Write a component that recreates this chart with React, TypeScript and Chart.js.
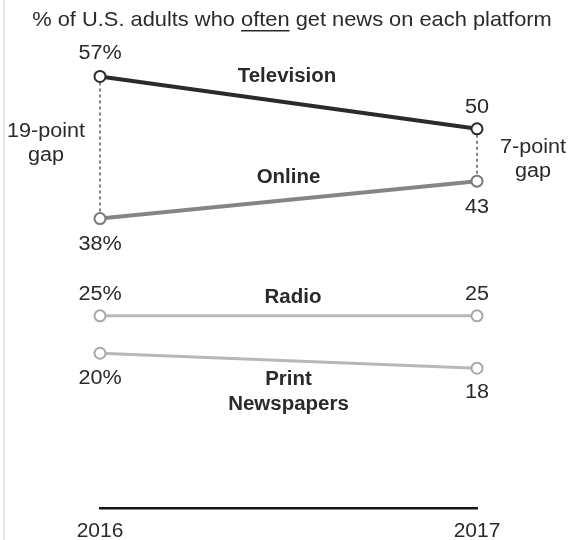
import React, { useEffect, useRef } from "react";
import { Chart, registerables } from "chart.js";

Chart.register(...registerables);

// ---- data ----
const years = ["2016", "2017"];
const seriesNames = ["Television", "Online", "Radio", "Print\nNewspapers"];
const television = [57, 50];
const online = [38, 43];
const radio = [25, 25];
const printNewspapers = [20, 18];
const gapNotes = ["19-point\ngap", "7-point\ngap"];
const titleParts = ["% of U.S. adults who ", "often", " get news on each platform"];

const FONT = "'Liberation Sans', Arial, Helvetica, sans-serif";
const TEXT = "#2a2a2a";

// style per series: colours, widths, label offsets
const styles = [
  { color: "#2b2b2b", point: "#2b2b2b", width: 4, dy: [-22.5, -21], nameDy: [-26], nameDx: -1.5 },
  { color: "#858585", point: "#7a7a7a", width: 4, dy: [26, 26], nameDy: [-22], nameDx: 0 },
  { color: "#b8b8b8", point: "#a8a8a8", width: 3, dy: [-21.5, -21], nameDy: [-18], nameDx: 4.5 },
  { color: "#b8b8b8", point: "#a8a8a8", width: 3, dy: [25, 24], nameDy: [19, 44], nameDx: 0 },
];

function drawText(ctx: CanvasRenderingContext2D, text: string, x: number, y: number, font: string, sx: number) {
  ctx.save();
  ctx.font = font;
  ctx.textAlign = "center";
  ctx.textBaseline = "middle";
  ctx.translate(x, y);
  ctx.scale(sx, 1);
  ctx.fillText(text, 0, 0);
  ctx.restore();
}

const annotate = {
  id: "annotate",
  beforeDraw(chart: any) {
    const { ctx, width, height } = chart;
    ctx.save();
    ctx.fillStyle = "#ffffff";
    ctx.fillRect(0, 0, width, height);
    // faint page border at left
    ctx.strokeStyle = "#e0e0e0";
    ctx.lineWidth = 1.5;
    ctx.beginPath();
    ctx.moveTo(4, 0);
    ctx.lineTo(4, height);
    ctx.stroke();
    ctx.restore();
  },
  beforeDatasetsDraw(chart: any) {
    const { ctx } = chart;
    const tv = chart.getDatasetMeta(0).data;
    const on = chart.getDatasetMeta(1).data;
    ctx.save();
    ctx.strokeStyle = "#333";
    ctx.lineWidth = 1.2;
    ctx.setLineDash([3, 3]);
    for (let i = 0; i < years.length; i++) {
      ctx.beginPath();
      ctx.moveTo(tv[i].x, tv[i].y + 6);
      ctx.lineTo(on[i].x, on[i].y - 6);
      ctx.stroke();
    }
    ctx.restore();
  },
  afterDatasetsDraw(chart: any) {
    const { ctx } = chart;
    ctx.save();
    ctx.fillStyle = TEXT;

    // title with underlined "often"
    const tsx = 1.04;
    ctx.font = `21px ${FONT}`;
    const widths = titleParts.map((p) => ctx.measureText(p).width * tsx);
    const total = widths.reduce((a, b) => a + b, 0);
    let x = 292 - total / 2;
    const ty = 20;
    titleParts.forEach((p, i) => {
      drawText(ctx, p, x + widths[i] / 2, ty, `21px ${FONT}`, tsx);
      if (i === 1) ctx.fillRect(x, ty + 10, widths[i], 1.5);
      x += widths[i];
    });

    // value labels and series names
    chart.data.datasets.forEach((ds: any, di: number) => {
      const pts = chart.getDatasetMeta(di).data;
      const st = styles[di];
      pts.forEach((p: any, i: number) => {
        const v = ds.data[i];
        const label = i === 0 ? `${v}%` : `${v}`;
        drawText(ctx, label, p.x, p.y + st.dy[i], `20px ${FONT}`, 1.08);
      });
      const mx = (pts[0].x + pts[pts.length - 1].x) / 2 + st.nameDx;
      const my = (pts[0].y + pts[pts.length - 1].y) / 2;
      const lines = seriesNames[di].split("\n");
      lines.forEach((ln, li) => drawText(ctx, ln, mx, my + st.nameDy[li], `bold 19.5px ${FONT}`, 1.05));
    });

    // gap notes
    const tv = chart.getDatasetMeta(0).data;
    const on = chart.getDatasetMeta(1).data;
    const n0 = gapNotes[0].split("\n");
    const y0 = (tv[0].y + on[0].y) / 2;
    drawText(ctx, n0[0], 46, y0 - 16, `20px ${FONT}`, 1.08);
    drawText(ctx, n0[1], 46, y0 + 8, `20px ${FONT}`, 1.08);
    const n1 = gapNotes[1].split("\n");
    const y1 = (tv[1].y + on[1].y) / 2;
    drawText(ctx, n1[0], 533, y1 - 8, `20px ${FONT}`, 1.08);
    drawText(ctx, n1[1], 533, y1 + 16, `20px ${FONT}`, 1.08);
    ctx.restore();
  },
};

export default function App() {
  const ref = useRef<HTMLCanvasElement | null>(null);
  useEffect(() => {
    document.body.style.margin = "0";
    const series = [television, online, radio, printNewspapers];
    const chart = new Chart(ref.current!, {
      type: "line",
      data: {
        labels: years,
        datasets: series.map((d, i) => ({
          label: seriesNames[i],
          data: d,
          borderColor: styles[i].color,
          borderWidth: styles[i].width,
          pointRadius: 5.5,
          pointBorderWidth: 2,
          pointBorderColor: styles[i].point,
          pointBackgroundColor: "#ffffff",
          tension: 0,
        })),
      },
      options: {
        animation: false,
        responsive: false,
        maintainAspectRatio: false,
        layout: { padding: { left: 100, right: 92, top: 54, bottom: -15 } },
        plugins: {
          legend: { display: false },
          tooltip: { enabled: false },
          title: { display: false },
        },
        scales: {
          x: {
            type: "category",
            offset: false,
            grid: { display: false, drawTicks: false },
            border: { display: true, color: "#151515", width: 2.5 },
            ticks: {
              padding: 14,
              color: TEXT,
              font: { family: FONT, size: 21, lineHeight: 0.9 },
              maxRotation: 0,
              autoSkip: false,
            },
          },
          y: { display: false, min: -0.7, max: 60 },
        },
      },
      plugins: [annotate],
    });
    return () => chart.destroy();
  }, []);
  return <canvas ref={ref} width={569} height={540} style={{ display: "block" }} />;
}
